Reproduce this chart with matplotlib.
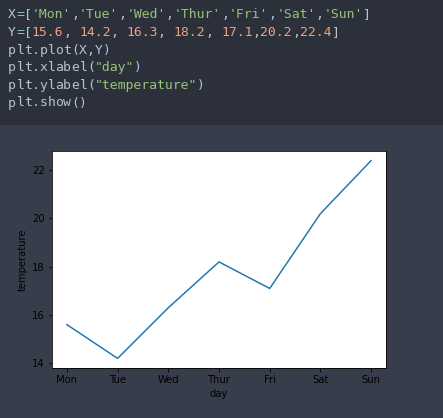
import re
import matplotlib
matplotlib.use('Agg')
import matplotlib.pyplot as plt
from matplotlib.patches import Rectangle

days = ['Mon', 'Tue', 'Wed', 'Thur', 'Fri', 'Sat', 'Sun']
temps = [15.6, 14.2, 16.3, 18.2, 17.1, 20.2, 22.4]

code_lines = [
    "X=[" + ",".join("'%s'" % d for d in days) + "]",
    "Y=[15.6, 14.2, 16.3, 18.2, 17.1,20.2,22.4]",
    "plt.plot(X,Y)",
    'plt.xlabel("day")',
    'plt.ylabel("temperature")',
    "plt.show()",
]

W, H, DPI = 443, 418, 72
CODE_BG = '#2b303b'
OUT_BG = '#373d4a'
C_TEXT = '#b8c2d4'
C_STR = '#98c379'
C_NUM = '#f2a07e'
C_OP = '#8fc1d4'

fig = plt.figure(figsize=(W / DPI, H / DPI), dpi=DPI, facecolor=OUT_BG)

# code cell background
fig.patches.append(Rectangle((0, 1 - 125 / H), 1, 125 / H, transform=fig.transFigure,
                             facecolor=CODE_BG, edgecolor='none', zorder=0))

token_re = re.compile(r"('[^']*'|\"[^\"]*\"|\d+\.\d+|\d+|=|.)")
fsize = 13.1
char_w = 0.602 * fsize  # px per char, DejaVu Sans Mono at 72 dpi
for n, line in enumerate(code_lines):
    y = 15 + n * 17.6
    col = 0
    for tok in token_re.findall(line):
        if tok[0] in "'\"":
            c = C_STR
        elif tok[0].isdigit():
            c = C_NUM
        elif tok == '=':
            c = C_OP
        else:
            c = C_TEXT
        fig.text((8 + col * char_w) / W, 1 - y / H, tok, color=c, family='DejaVu Sans Mono',
                 fontsize=fsize, va='center', ha='left')
        col += len(tok)

ax = fig.add_axes([51.7 / W, 1 - 368.3 / H, (386.3 - 51.7) / W, (368.3 - 150.7) / H])
ax.set_facecolor('white')
ax.plot(days, temps)
ax.set_xlabel("day")
ax.set_ylabel("temperature")

fig.savefig('out.png', dpi=DPI, facecolor=fig.get_facecolor())
